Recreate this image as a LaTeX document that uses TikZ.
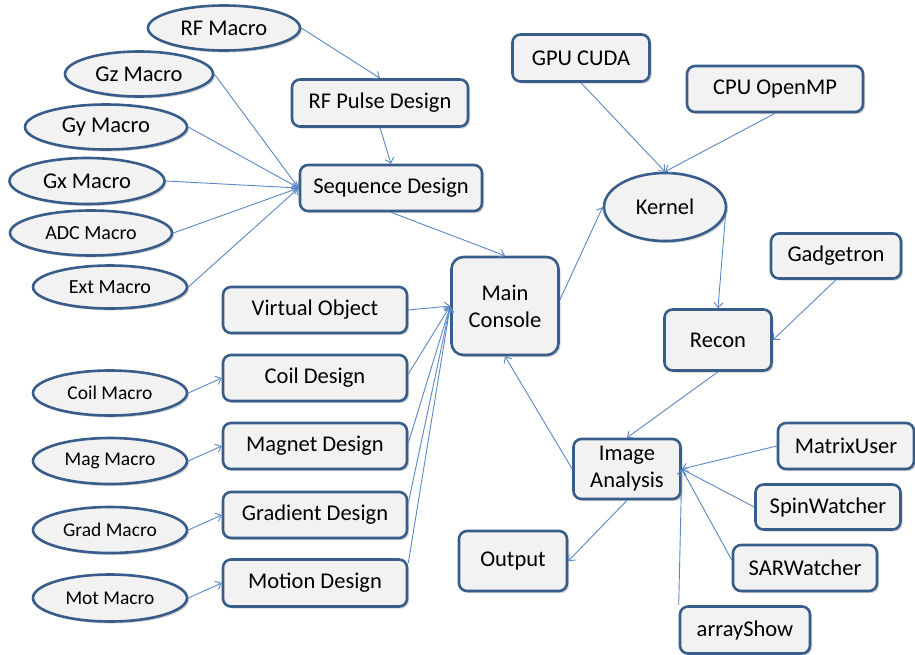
\documentclass[tikz,border=0pt]{standalone}
\usepackage{fontspec}
\setmainfont{Carlito}
\usetikzlibrary{shapes.geometric,shadows,arrows.meta}
\definecolor{bordc}{RGB}{56,93,138}
\definecolor{fillc}{RGB}{242,242,242}
\definecolor{linec}{RGB}{90,135,195}
\tikzset{
  base/.style={draw=bordc, line width=2.6pt, fill=fillc, inner sep=0pt, align=center,
    drop shadow={opacity=0.35, shadow xshift=2pt, shadow yshift=-2pt}},
  boxn/.style={base, rounded corners=8pt, font=\fontsize{22.5}{27}\selectfont},
  ell/.style={base, ellipse, font=\fontsize{22.5}{27}\selectfont},
  ells/.style={base, ellipse, font=\fontsize{20}{22}\selectfont},
  ellt/.style={base, ellipse, font=\fontsize{19.5}{22}\selectfont},
  arr/.style={draw=linec, line width=0.9pt, -{Straight Barb[length=5pt,width=9pt]}},
}
\begin{document}
\begin{tikzpicture}[x=1pt,y=-1pt]
\useasboundingbox (0,0) rectangle (915,654);
% ellipses
\node[ell, minimum width=152pt, minimum height=45pt] (rfm) at (224,28) {RF Macro};
\node[ell, minimum width=148pt, minimum height=45pt] (gz) at (139,74) {Gz Macro};
\node[ell, minimum width=162pt, minimum height=45pt] (gy) at (106,127) {Gy Macro};
\node[ell, minimum width=155pt, minimum height=46pt] (gx) at (87,181) {Gx Macro};
\node[ells, minimum width=162pt, minimum height=45pt] (adc) at (91,233) {ADC Macro};
\node[ells, minimum width=154pt, minimum height=43pt] (ext) at (110,287) {Ext Macro};
\node[ellt, minimum width=154pt, minimum height=45pt] (cm) at (110,393) {Coil Macro};
\node[ellt, minimum width=154pt, minimum height=46pt] (mgm) at (110,461) {Mag Macro};
\node[ellt, minimum width=154pt, minimum height=46pt] (grm) at (110,530) {Grad Macro};
\node[ellt, minimum width=154pt, minimum height=47pt] (mtm) at (110,598) {Mot Macro};
\node[ell, minimum width=122pt, minimum height=68pt] (ker) at (665,207) {Kernel};
% boxes
\node[boxn, minimum width=176pt, minimum height=47pt] (rfp) at (380,103) {RF Pulse Design};
\node[boxn, minimum width=182pt, minimum height=46pt] (sd) at (391,188) {Sequence Design};
\node[boxn, minimum width=184pt, minimum height=46pt] (vo) at (315,310) {Virtual Object};
\node[boxn, minimum width=184pt, minimum height=46pt] (cd) at (315,378) {Coil Design};
\node[boxn, minimum width=184pt, minimum height=46pt] (mgd) at (315,446) {Magnet Design};
\node[boxn, minimum width=184pt, minimum height=46pt] (gd) at (315,515) {Gradient Design};
\node[boxn, minimum width=184pt, minimum height=47pt] (md) at (315,583) {Motion Design};
\node[boxn, minimum width=107pt, minimum height=98pt, rounded corners=12pt] (mc) at (505,306) {Main\\Console};
\node[boxn, minimum width=137pt, minimum height=47pt] (gpu) at (581,58) {GPU CUDA};
\node[boxn, minimum width=176pt, minimum height=46pt] (cpu) at (775,89) {CPU OpenMP};
\node[boxn, minimum width=130pt, minimum height=45pt] (gad) at (836,256) {Gadgetron};
\node[boxn, minimum width=107pt, minimum height=61pt] (rec) at (718,340) {Recon};
\node[boxn, minimum width=107pt, minimum height=60pt] (ia) at (627,469) {Image\\Analysis};
\node[boxn, minimum width=108pt, minimum height=60pt] (out) at (513,561) {Output};
\node[boxn, minimum width=136pt, minimum height=46pt] (mu) at (846,446) {MatrixUser};
\node[boxn, minimum width=145pt, minimum height=45pt] (sw) at (828,507) {SpinWatcher};
\node[boxn, minimum width=144pt, minimum height=46pt] (sar) at (805,568) {SARWatcher};
\node[boxn, minimum width=130pt, minimum height=47pt] (as) at (745,630) {arrayShow};
% connectors
\draw[arr] (rfm.east) -- (rfp.north);
\draw[arr] (rfp.south) -- (sd.north);
\draw[arr] (gz.east) -- (sd.west);
\draw[arr] (gy.east) -- (sd.west);
\draw[arr] (gx.east) -- (sd.west);
\draw[arr] (adc.east) -- (sd.west);
\draw[arr] (ext.east) -- (sd.west);
\draw[arr] (sd.south) -- (mc.north);
\draw[arr] (cm.east) -- (cd.west);
\draw[arr] (mgm.east) -- (mgd.west);
\draw[arr] (grm.east) -- (gd.west);
\draw[arr] (mtm.east) -- (md.west);
\draw[arr] (vo.east) -- (mc.west);
\draw[arr] ([yshift=4pt]cd.east) -- (mc.west);
\draw[arr] ([yshift=3pt]mgd.east) -- (mc.west);
\draw[arr] ([yshift=12pt]gd.east) -- (mc.west);
\draw[arr] ([yshift=20pt]md.east) -- (mc.west);
\draw[arr] ([yshift=6pt]mc.east) -- (ker.west);
\draw[arr] (gpu.south) -- (ker.north);
\draw[arr] (cpu.south) -- (ker.north);
\draw[arr] (ker.-8) -- (rec.north);
\draw[arr] (gad.south) -- (rec.east);
\draw[arr] (rec.south) -- (ia.north);
\draw[arr] (ia.west) -- (mc.south);
\draw[arr] (ia.south) -- (out.east);
\draw[arr] (mu.west) -- (ia.east);
\draw[arr] (sw.west) -- (ia.east);
\draw[arr] ([yshift=8pt]sar.west) -- (ia.east);
\draw[arr] (as.north west) -- (ia.east);
\end{tikzpicture}
\end{document}
